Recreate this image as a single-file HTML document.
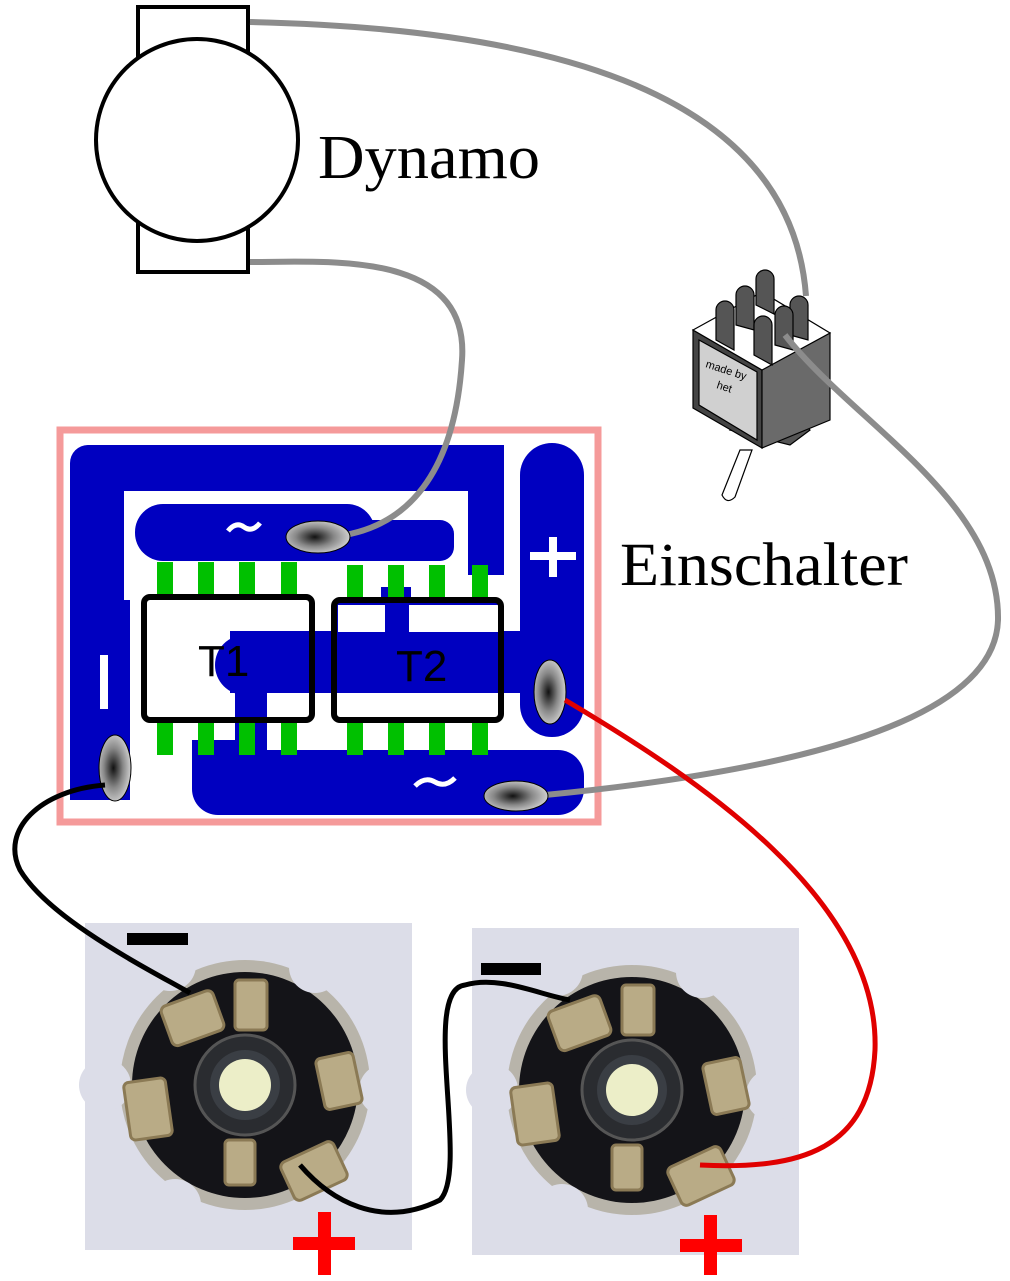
<!DOCTYPE html>
<html><head><meta charset="utf-8"><style>
html,body{margin:0;padding:0;background:#fff}
svg{display:block}
</style></head><body>
<svg width="1010" height="1281" viewBox="0 0 1010 1281" xmlns="http://www.w3.org/2000/svg">
<defs>
<radialGradient id="pad" cx="0.45" cy="0.5" r="0.6">
<stop offset="0" stop-color="#111"/><stop offset="0.5" stop-color="#888"/><stop offset="1" stop-color="#ddd"/>
</radialGradient>
<g id="led">
<rect x="-160" y="-162" width="327" height="327" fill="#dcdde8"/>
<circle r="125" fill="#b8b4aa"/>
<circle r="113" fill="#141418"/>
<g fill="#dcdde8">
<circle cx="-75" cy="-120" r="26"/><circle cx="70" cy="-118" r="26"/>
<circle cx="-140" cy="0" r="26"/><circle cx="140" cy="5" r="26"/>
<circle cx="-70" cy="120" r="26"/><circle cx="75" cy="118" r="26"/>
</g>
<g fill="#b9ab86" stroke="#8b7a55" stroke-width="3">
<rect x="-80" y="-88" width="55" height="42" rx="6" transform="rotate(-20 -52 -67)"/>
<rect x="-10" y="-105" width="32" height="50" rx="4"/>
<rect x="75" y="-30" width="38" height="52" rx="5" transform="rotate(-12 94 -4)"/>
<rect x="-118" y="-5" width="42" height="58" rx="5" transform="rotate(-8 -97 24)"/>
<rect x="-20" y="55" width="30" height="45" rx="4"/>
<rect x="40" y="65" width="58" height="42" rx="6" transform="rotate(-25 69 86)"/>
</g>
<circle r="50" fill="#2a2c30" stroke="#555" stroke-width="3"/>
<circle r="35" fill="#3a3e44"/>
<circle r="26" fill="#eceec8"/>
</g>
</defs>

<rect x="138" y="7" width="110" height="265" fill="#fff" stroke="#000" stroke-width="4"/>
<circle cx="197" cy="140" r="101" fill="#fff" stroke="#000" stroke-width="4"/>
<text x="318" y="178" font-family="Liberation Serif, serif" font-size="62" textLength="222" lengthAdjust="spacingAndGlyphs">Dynamo</text>
<text x="620" y="585" font-family="Liberation Serif, serif" font-size="61" textLength="288" lengthAdjust="spacingAndGlyphs">Einschalter</text>

<path d="M250,22 C520,28 790,80 806,296" fill="none" stroke="#8c8c8c" stroke-width="6"/>

<g stroke="#000" stroke-width="1.2">
<path d="M740,450 L722,495 Q727,505 735,497 L752,450Z" fill="#fff"/>
<polygon points="730,430 790,445 810,430 800,420 740,420" fill="#555"/>
<polygon points="693,330 762,370 762,448 693,408" fill="#444"/>
<polygon points="699,340 757,372 757,440 699,405" fill="#d0d0d0"/>
<polygon points="762,370 830,333 830,420 762,448" fill="#6a6a6a"/>
<polygon points="693,330 762,292 830,333 762,370" fill="#fff"/>
<g fill="#555">
<path d="M716,340 v-30 a9,9 0 0 1 18,0 v40z"/>
<path d="M736,325 v-30 a9,9 0 0 1 18,0 v35z"/>
<path d="M756,305 v-26 a9,9 0 0 1 18,0 v35z"/>
<path d="M790,335 v-30 a9,9 0 0 1 18,0 v35z"/>
<path d="M775,345 v-30 a9,9 0 0 1 18,0 v35z"/>
<path d="M754,355 v-30 a9,9 0 0 1 18,0 v40z"/>
</g>
</g>
<text x="705" y="367" font-family="Liberation Sans, sans-serif" font-size="11" transform="rotate(18 705 367)">made by</text>
<text x="716" y="388" font-family="Liberation Sans, sans-serif" font-size="11" transform="rotate(18 716 388)">het</text>

<rect x="60" y="430" width="538" height="392" fill="#fff" stroke="#f59a9a" stroke-width="7"/>
<g fill="#0000c0">
<rect x="72" y="445" width="432" height="46" rx="18"/>
<rect x="70" y="445" width="54" height="355" rx="18"/>
<rect x="468" y="445" width="36" height="130"/>
<rect x="70" y="600" width="60" height="200"/>
<rect x="135" y="504" width="240" height="57" rx="28"/>
<rect x="300" y="520" width="154" height="41" rx="14"/>
<rect x="520" y="443" width="64" height="294" rx="32"/>
<rect x="230" y="631" width="290" height="62"/>
<rect x="335" y="600" width="165" height="90"/>
<rect x="381" y="587" width="30" height="44"/>
<circle cx="245" cy="665" r="30"/>
<rect x="235" y="690" width="32" height="66"/>
<rect x="192" y="750" width="392" height="65" rx="26"/>
<rect x="192" y="740" width="70" height="40"/>
</g>
<rect x="338" y="605" width="160" height="27" fill="#fff"/>
<rect x="385" y="605" width="24" height="27" fill="#0000c0"/>
<rect x="338" y="693" width="160" height="26" fill="#fff"/>
<g fill="#00c000">
<rect x="157" y="562" width="16" height="32"/><rect x="198" y="562" width="16" height="32"/><rect x="239" y="562" width="16" height="32"/><rect x="281" y="562" width="16" height="32"/>
<rect x="347" y="565" width="16" height="32"/><rect x="388" y="565" width="16" height="32"/><rect x="429" y="565" width="16" height="32"/><rect x="472" y="565" width="16" height="32"/>
<rect x="157" y="723" width="16" height="32"/><rect x="198" y="723" width="16" height="32"/><rect x="239" y="723" width="16" height="32"/><rect x="281" y="723" width="16" height="32"/>
<rect x="347" y="723" width="16" height="32"/><rect x="388" y="723" width="16" height="32"/><rect x="429" y="723" width="16" height="32"/><rect x="472" y="723" width="16" height="32"/>
</g>
<rect x="144" y="597" width="168" height="123" rx="6" fill="none" stroke="#000" stroke-width="6"/>
<rect x="334" y="600" width="167" height="120" rx="6" fill="none" stroke="#000" stroke-width="6"/>
<text x="198" y="676" font-family="Liberation Sans, sans-serif" font-size="44">T1</text>
<text x="396" y="681" font-family="Liberation Sans, sans-serif" font-size="44">T2</text>
<g fill="#fff">
<rect x="100" y="655" width="8" height="54"/>
<rect x="530" y="552" width="46" height="8"/><rect x="549" y="537" width="8" height="40"/>
</g>
<g fill="none" stroke="#fff" stroke-width="5">
<path d="M228,531 q8,-10 16,-4 q8,6 16,-4"/>
<path d="M415,786 q10,-10 20,-4 q10,6 20,-4"/>
</g>

<g fill="none" stroke="#8c8c8c" stroke-width="6">
<path d="M250,262 C330,262 470,250 462,360 C455,470 410,530 330,537"/>
<path d="M785,335 C850,420 1000,500 998,620 C995,720 800,770 545,795"/>
</g>

<g stroke="#000" stroke-width="1" fill="url(#pad)">
<ellipse cx="318" cy="537" rx="32" ry="16"/>
<ellipse cx="550" cy="692" rx="16" ry="32"/>
<ellipse cx="115" cy="768" rx="16" ry="33"/>
<ellipse cx="516" cy="796" rx="32" ry="15"/>
</g>

<use href="#led" transform="translate(245,1085)"/>
<use href="#led" transform="translate(632,1090)"/>

<g fill="none" stroke-width="5">
<path d="M565,700 C700,780 880,900 875,1050 C870,1150 800,1170 700,1165" stroke="#e00000"/>
<path d="M105,785 C40,790 0,830 20,870 C50,920 150,970 190,993" stroke="#000"/>
<path d="M300,1165 C330,1200 380,1230 440,1200 C470,1170 420,990 465,985 C500,975 540,995 570,1000" stroke="#000"/>
</g>
<rect x="127" y="933" width="61" height="12" fill="#000"/>
<rect x="481" y="963" width="60" height="12" fill="#000"/>
<g fill="#f00">
<rect x="293" y="1237" width="62" height="13"/><rect x="318" y="1212" width="13" height="63"/>
<rect x="680" y="1239" width="62" height="13"/><rect x="704" y="1215" width="13" height="60"/>
</g>
</svg>
</body></html>
